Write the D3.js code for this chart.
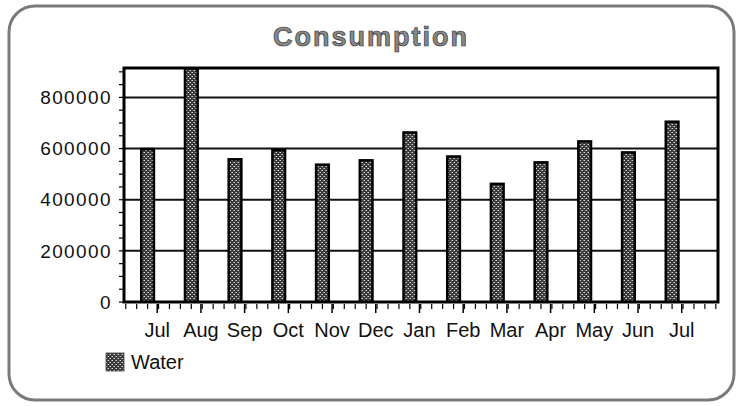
<!DOCTYPE html>
<html><head><meta charset="utf-8">
<script src="https://cdn.jsdelivr.net/npm/d3@7"></script>
<style>body{margin:0;background:#fff}svg{display:block}</style>
</head><body><svg id="c" width="742" height="406"></svg>
<script>
const months = ["Jul","Aug","Sep","Oct","Nov","Dec","Jan","Feb","Mar","Apr","May","Jun","Jul"];
const water = [598000, 940000, 558000, 594000, 537000, 554000, 663000, 569000, 462000, 546000, 628000, 585000, 705000];
const yTicks = [0, 200000, 400000, 600000, 800000];
const seriesName = "Water";
const title = "Consumption";

const svg = d3.select("#c");
const L = 124, R = 718, T = 68, B = 302;

const defs = svg.append("defs");
const pat = defs.append("pattern").attr("id","dither").attr("patternUnits","userSpaceOnUse")
  .attr("width",4).attr("height",4);
pat.append("rect").attr("width",4).attr("height",4).attr("fill","#3a3a3a");
pat.append("rect").attr("x",0).attr("y",0).attr("width",1).attr("height",1).attr("fill","#d8d8d8");
pat.append("rect").attr("x",2).attr("y",2).attr("width",1).attr("height",1).attr("fill","#d8d8d8");
pat.append("rect").attr("x",1).attr("y",2).attr("width",1).attr("height",1).attr("fill","#888");
pat.append("rect").attr("x",3).attr("y",0).attr("width",1).attr("height",1).attr("fill","#888");
defs.append("clipPath").attr("id","plot").append("rect")
  .attr("x",L).attr("y",T).attr("width",R-L).attr("height",B-T);

// outer frame
svg.append("rect").attr("x",9).attr("y",6).attr("width",725).attr("height",394)
  .attr("rx",26).attr("fill","none").attr("stroke","#7a7a7a").attr("stroke-width",3);

// title
svg.append("text").attr("x",371).attr("y",46).attr("text-anchor","middle")
  .attr("font-family","Liberation Sans, Arial, sans-serif").attr("font-size",27).attr("font-weight","bold")
  .attr("letter-spacing",2).attr("fill","#888").attr("stroke","#333").attr("stroke-width",0.7)
  .text(title);

const x = d3.scaleLinear().domain([-0.54, 13.05]).range([L, R]);
const y = d3.scaleLinear().domain([0, 915000]).range([B, T]).clamp(true);

// gridlines
svg.append("g").selectAll("line").data(yTicks.filter(d=>d>0)).join("line")
  .attr("x1",L).attr("x2",R).attr("y1",d=>y(d)).attr("y2",d=>y(d))
  .attr("stroke","#111").attr("stroke-width",2);

// bars
const bw = 0.29;
svg.append("g").attr("clip-path","url(#plot)").selectAll("rect").data(water).join("rect")
  .attr("x",(d,i)=>x(i - bw/2)).attr("width",x(bw)-x(0))
  .attr("y",d=>y(d)).attr("height",d=>B - y(d))
  .attr("fill","url(#dither)").attr("stroke","#000").attr("stroke-width",2.5);

// plot frame
svg.append("rect").attr("x",L).attr("y",T).attr("width",R-L).attr("height",B-T)
  .attr("fill","none").attr("stroke","#000").attr("stroke-width",3);

// y axis ticks
const minorY = d3.range(0, 915000, 50000);
svg.append("g").selectAll("line").data(minorY).join("line")
  .attr("x1",L-5).attr("x2",L-1).attr("y1",d=>y(d)).attr("y2",d=>y(d))
  .attr("stroke","#000").attr("stroke-width",1.2);
svg.append("g").selectAll("text").data(yTicks).join("text")
  .attr("x",L-12).attr("y",d=>y(d)).attr("dy","0.35em").attr("text-anchor","end")
  .attr("font-family","Liberation Sans, Arial, sans-serif").attr("font-size",19).attr("letter-spacing",1.4)
  .attr("fill","#111").text(d=>d);

// x axis ticks
const off = 0.22;
const minorX = d3.range(-0.5, 13.05, 0.25).filter(v=>x(v)>L && x(v)<R+1);
svg.append("g").selectAll("line").data(minorX).join("line")
  .attr("x1",d=>x(d)).attr("x2",d=>x(d)).attr("y1",B+2).attr("y2",B+7)
  .attr("stroke","#000").attr("stroke-width",1.2);
svg.append("g").selectAll("line").data(months).join("line")
  .attr("x1",(d,i)=>x(i+off)).attr("x2",(d,i)=>x(i+off)).attr("y1",B+2).attr("y2",B+11)
  .attr("stroke","#000").attr("stroke-width",1.5);
svg.append("g").selectAll("text").data(months).join("text")
  .attr("x",(d,i)=>x(i+off)).attr("y",337).attr("text-anchor","middle")
  .attr("font-family","Liberation Sans, Arial, sans-serif").attr("font-size",20)
  .attr("fill","#111").text(d=>d);

// legend
svg.append("rect").attr("x",106).attr("y",353).attr("width",18).attr("height",18)
  .attr("fill","url(#dither)").attr("stroke","#444").attr("stroke-width",0.8);
svg.append("text").attr("x",131).attr("y",369)
  .attr("font-family","Liberation Sans, Arial, sans-serif").attr("font-size",20)
  .attr("fill","#111").text(seriesName);
</script></body></html>
